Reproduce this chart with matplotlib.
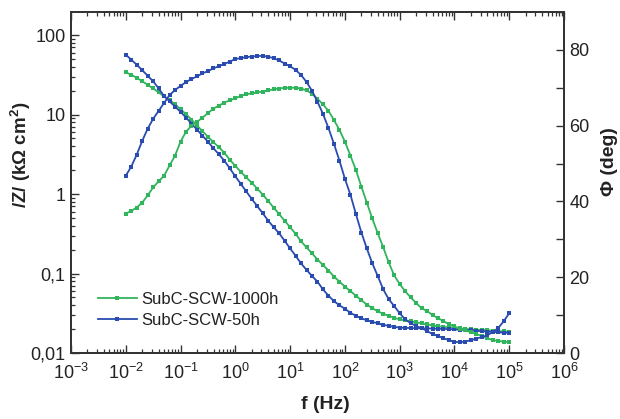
import numpy as np
import matplotlib
matplotlib.use("Agg")
import matplotlib.pyplot as plt
from matplotlib.ticker import LogLocator, FixedLocator, FixedFormatter, NullFormatter, MultipleLocator

plt.rcParams['font.family'] = ['Liberation Sans', 'DejaVu Sans']
plt.rcParams['mathtext.fontset'] = 'custom'
plt.rcParams['mathtext.rm'] = 'Liberation Sans'
plt.rcParams['mathtext.it'] = 'Liberation Sans:italic'
plt.rcParams['mathtext.bf'] = 'Liberation Sans:bold'

# ---- data ----
freq_hz = [0.01, 0.0126, 0.0158, 0.02, 0.0251, 0.0316, 0.0398, 0.0501, 0.0631, 0.0794,
           0.1, 0.126, 0.158, 0.2, 0.251, 0.316, 0.398, 0.501, 0.631, 0.794,
           1.0, 1.26, 1.58, 2.0, 2.51, 3.16, 3.98, 5.01, 6.31, 7.94,
           10.0, 12.6, 15.8, 20.0, 25.1, 31.6, 39.8, 50.1, 63.1, 79.4,
           100.0, 126.0, 158.0, 200.0, 251.0, 316.0, 398.0, 501.0, 631.0, 794.0,
           1000.0, 1260.0, 1580.0, 2000.0, 2510.0, 3160.0, 3980.0, 5010.0, 6310.0, 7940.0,
           1.0e4, 1.26e4, 1.58e4, 2.0e4, 2.51e4, 3.16e4, 3.98e4, 5.01e4, 6.31e4, 7.94e4,
           1.0e5]

z_1000h = [34.0, 31.6, 29.0, 26.2, 23.6, 21.3, 19.0, 16.9, 15.3, 13.4,
           11.7, 10.1, 8.65, 7.26, 6.18, 5.27, 4.49, 3.88, 3.30, 2.69,
           2.26, 1.90, 1.62, 1.38, 1.17, 0.986, 0.815, 0.675, 0.558, 0.462,
           0.382, 0.316, 0.254, 0.213, 0.179, 0.150, 0.128, 0.109, 0.0916, 0.0792,
           0.0685, 0.0600, 0.0527, 0.0462, 0.0406, 0.0366, 0.0335, 0.0312, 0.0294, 0.0277,
           0.0265, 0.0258, 0.0250, 0.0243, 0.0236, 0.0229, 0.0223, 0.0216, 0.0213, 0.0210,
           0.0207, 0.0204, 0.0201, 0.0199, 0.0197, 0.0195, 0.0193, 0.0191, 0.0189, 0.0187,
           0.0185]

z_50h = [56.6, 49.0, 42.4, 36.1, 30.7, 26.2, 21.3, 17.1, 14.6, 12.6,
         10.8, 9.16, 7.69, 6.46, 5.42, 4.55, 3.77, 3.16, 2.62, 2.10,
         1.67, 1.34, 1.08, 0.865, 0.705, 0.574, 0.462, 0.382, 0.321, 0.258,
         0.207, 0.167, 0.134, 0.111, 0.093, 0.079, 0.063, 0.0527, 0.0449, 0.0399,
         0.0360, 0.0321, 0.0294, 0.0273, 0.0258, 0.0247, 0.0236, 0.0226, 0.0220, 0.0213,
         0.0209, 0.0207, 0.0206, 0.0205, 0.0204, 0.0204, 0.0203, 0.0202, 0.0201, 0.0200,
         0.0198, 0.0196, 0.0194, 0.0192, 0.0190, 0.0188, 0.0186, 0.0184, 0.0182, 0.0180,
         0.0179]

phi_1000h = [36.8, 37.5, 38.4, 39.7, 41.6, 43.7, 45.3, 46.8, 49.5, 52.1,
             55.8, 58.4, 60.0, 61.0, 62.1, 63.3, 64.5, 65.3, 66.1, 66.7,
             67.2, 67.9, 68.3, 68.5, 68.8, 69.0, 69.3, 69.6, 69.8, 70.0,
             70.0, 70.0, 69.8, 69.3, 68.4, 67.1, 65.6, 63.9, 61.5, 58.9,
             55.8, 52.1, 48.4, 43.9, 39.7, 35.5, 31.6, 27.9, 23.9, 20.5,
             18.2, 16.3, 14.7, 13.2, 11.8, 11.1, 10.0, 9.2, 8.4, 7.6,
             7.0, 6.4, 6.0, 5.5, 5.0, 4.5, 3.9, 3.4, 3.2, 3.0,
             2.9]

phi_50h = [46.8, 49.2, 52.3, 56.0, 59.2, 61.8, 63.9, 66.0, 68.1, 69.4,
           70.5, 71.5, 72.3, 73.0, 73.8, 74.4, 75.1, 75.7, 76.3, 76.9,
           77.6, 77.8, 78.1, 78.2, 78.4, 78.4, 78.2, 77.8, 77.2, 76.4,
           75.7, 74.7, 73.4, 71.5, 69.2, 66.3, 63.1, 59.4, 55.2, 50.8,
           46.0, 41.8, 36.8, 31.8, 27.6, 23.7, 20.3, 16.8, 14.2, 12.4,
           10.5, 8.9, 7.9, 7.1, 6.6, 5.8, 5.0, 4.5, 3.9, 3.4,
           2.9, 2.9, 3.0, 3.4, 3.8, 4.2, 4.7, 5.5, 6.6, 8.4,
           10.5]

series_labels = ["SubC-SCW-1000h", "SubC-SCW-50h"]
x_ticks = [1e-3, 1e-2, 1e-1, 1e0, 1e1, 1e2, 1e3, 1e4, 1e5, 1e6]
x_ticklabels = ["$10^{-3}$", "$10^{-2}$", "$10^{-1}$", "$10^{0}$", "$10^{1}$",
                "$10^{2}$", "$10^{3}$", "$10^{4}$", "$10^{5}$", "$10^{6}$"]
z_ticks = [0.01, 0.1, 1, 10, 100]
z_ticklabels = ["0,01", "0,1", "1", "10", "100"]
phi_ticks = [0, 20, 40, 60, 80]

# ---- style ----
GREEN = "#30b45c"
BLUE = "#2a4cb0"
TXT = "#222222"
SPINE = "#333333"

fig = plt.figure(figsize=(6.2, 4.19), dpi=100)
ax = fig.add_axes([0.1145, 0.1575, 0.7952, 0.8139])
ax2 = ax.twinx()

f = np.array(freq_hz)
kw = dict(marker='s', markersize=3.5, linewidth=1.3, markeredgewidth=0)
ax.plot(f, z_1000h, color=GREEN, label=series_labels[0], **kw)
ax.plot(f, z_50h, color=BLUE, label=series_labels[1], **kw)
ax2.plot(f, phi_1000h, color=GREEN, **kw)
ax2.plot(f, phi_50h, color=BLUE, **kw)

ax.set_xscale('log')
ax.set_yscale('log')
ax.set_xlim(1e-3, 1e6)
ax.set_ylim(0.01, 195)
ax2.set_ylim(0, 90)

ax.xaxis.set_major_locator(FixedLocator(x_ticks))
ax.xaxis.set_major_formatter(FixedFormatter(x_ticklabels))
ax.xaxis.set_minor_locator(LogLocator(base=10, subs=np.arange(2, 10), numticks=20))
ax.xaxis.set_minor_formatter(NullFormatter())
ax.yaxis.set_major_locator(FixedLocator(z_ticks))
ax.yaxis.set_major_formatter(FixedFormatter(z_ticklabels))
ax.yaxis.set_minor_locator(LogLocator(base=10, subs=np.arange(2, 10), numticks=20))
ax.yaxis.set_minor_formatter(NullFormatter())
ax2.yaxis.set_major_locator(FixedLocator(phi_ticks))
ax2.yaxis.set_minor_locator(MultipleLocator(10))

for a in (ax, ax2):
    for s in a.spines.values():
        s.set_color(SPINE)
        s.set_linewidth(1.3)

ax.tick_params(axis='both', which='major', direction='in', length=6, width=1.0,
               colors=SPINE, labelcolor=TXT, labelsize=13, top=True)
ax.tick_params(axis='both', which='minor', direction='in', length=3, width=0.9,
               colors=SPINE, top=True)
ax.tick_params(axis='x', which='major', pad=7)
ax.tick_params(axis='y', which='major', pad=4)
ax2.tick_params(axis='y', which='major', direction='in', length=6, width=1.0,
                colors=SPINE, labelcolor=TXT, labelsize=13, pad=4)
ax2.tick_params(axis='y', which='minor', direction='in', length=6, width=1.0, colors=SPINE)

ax.set_xlabel("f (Hz)", fontsize=14, fontweight='bold', color=TXT)
ax.xaxis.set_label_coords(0.515, -0.125)
ax.set_ylabel("/Z/ (k\u03A9 cm$^{\\mathbf{2}}$)", fontsize=13.5, fontweight='bold', color=TXT)
ax.yaxis.set_label_coords(-0.077, 0.58)
ax2.set_ylabel("\u03A6 (deg)", fontsize=14, fontweight='bold', color=TXT)
ax2.yaxis.set_label_coords(1.075, 0.56)

leg = ax.legend(loc='lower left', bbox_to_anchor=(0.035, 0.045), frameon=False,
                fontsize=12, handlelength=2.3, numpoints=1, labelspacing=0.35,
                handletextpad=0.3, labelcolor=TXT, borderaxespad=0.2)

fig.savefig("out.png", dpi=100)
